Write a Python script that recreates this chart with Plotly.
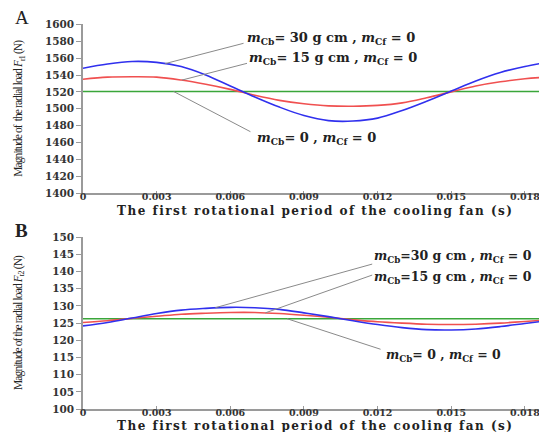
import plotly.graph_objects as go

# ---- data ----
t = [0.0, 0.001, 0.002, 0.003, 0.004, 0.005, 0.006, 0.007, 0.008, 0.009,
     0.010, 0.011, 0.012, 0.013, 0.014, 0.015, 0.016, 0.017, 0.018, 0.0189]

fa_30 = [1548, 1553, 1556, 1555, 1550, 1540, 1527, 1514, 1502, 1492,
         1486, 1485.5, 1489, 1498, 1509, 1521, 1533, 1543, 1550, 1555]
fa_15 = [1535, 1537.5, 1538, 1537.5, 1534, 1529, 1523, 1516, 1510, 1506,
         1503.5, 1503, 1504, 1507, 1513, 1520, 1527, 1532, 1535.5, 1537.5]
fa_0 = [1520.5] * len(t)

fb_30 = [124.2, 125.2, 126.5, 127.8, 128.8, 129.3, 129.6, 129.5, 129.0, 128.0,
         126.9, 125.7, 124.6, 123.7, 123.1, 123.0, 123.3, 124.0, 124.9, 125.7]
fb_15 = [125.2, 125.7, 126.4, 127.0, 127.6, 127.9, 128.1, 128.1, 127.8, 127.3,
         126.7, 126.0, 125.4, 125.0, 124.7, 124.6, 124.7, 125.0, 125.5, 125.9]
fb_0 = [126.3] * len(t)

x_tickvals = [0, 0.003, 0.006, 0.009, 0.012, 0.015, 0.018]
x_ticktext = ["0", "0.003", "0.006", "0.009", "0.012", "0.015", "0.018"]
ya_tickvals = list(range(1400, 1601, 20))
yb_tickvals = list(range(100, 151, 5))

labels_a = ["<i>m</i><sub>Cb</sub>= 30 g cm , <i>m</i><sub>Cf</sub> = 0",
            "<i>m</i><sub>Cb</sub>= 15 g cm , <i>m</i><sub>Cf</sub> = 0",
            "<i>m</i><sub>Cb</sub>= 0 , <i>m</i><sub>Cf</sub> = 0"]
labels_b = ["<i>m</i><sub>Cb</sub>=30 g cm , <i>m</i><sub>Cf</sub> = 0",
            "<i>m</i><sub>Cb</sub>=15 g cm , <i>m</i><sub>Cf</sub> = 0",
            "<i>m</i><sub>Cb</sub>= 0 , <i>m</i><sub>Cf</sub> = 0"]

# leader lines (text end -> curve point), data coordinates
lead_a = [((0.00654, 1577.5), (0.00335, 1553.5)),
          ((0.00668, 1553.8), (0.00403, 1534.0)),
          ((0.00682, 1472.9), (0.00369, 1520.5))]
text_a = [(0.00661, 1583.4), (0.00669, 1559.8), (0.00702, 1465.0)]
lead_b = [((0.01178, 142.2), (0.00539, 129.5)),
          ((0.01178, 139.0), (0.00743, 128.0)),
          ((0.01212, 117.4), (0.00831, 126.3))]
text_b = [(0.01178, 144.35), (0.01178, 138.35), (0.01224, 115.7)]

BLUE = "#3030ee"
RED = "#f05050"
GREEN = "#3aa63a"
AXC = "#9a9a9a"
SERIF = "Liberation Serif"

# page body has an 8px margin; figure fills the rest of the 547x432 window
OFF = 8
W, H = 547 - OFF, 432 - OFF


def px(x):
    return (x - OFF) / W


def py(y):
    return 1 - (y - OFF) / H


fig = go.Figure()
for y, c in [(fa_0, GREEN), (fa_15, RED), (fa_30, BLUE)]:
    fig.add_trace(go.Scatter(x=t, y=y, mode="lines", line=dict(color=c, width=1.6, shape="spline"),
                             xaxis="x", yaxis="y", showlegend=False))
for y, c in [(fb_0, GREEN), (fb_15, RED), (fb_30, BLUE)]:
    fig.add_trace(go.Scatter(x=t, y=y, mode="lines", line=dict(color=c, width=1.6, shape="spline"),
                             xaxis="x2", yaxis="y2", showlegend=False))

xdom = [px(83), 1.0]
tickfont = dict(family="DejaVu Serif", size=10.5, color="#333", weight="bold")
xcommon = dict(domain=xdom, range=[0, 0.0189], tickvals=x_tickvals, ticktext=x_ticktext,
               showline=True, linecolor=AXC, linewidth=1.5, ticks="inside", ticklen=3,
               tickcolor=AXC, showgrid=False, zeroline=False,
               tickfont=dict(tickfont, size=9.5), automargin=False, ticklabelstandoff=-6)
ycommon = dict(showline=True, linecolor=AXC, linewidth=1.5, ticks="outside", ticklen=5,
               tickcolor=AXC, showgrid=False, zeroline=False, tickfont=tickfont,
               automargin=False)

fig.update_layout(
    width=W, height=H, margin=dict(l=0, r=0, t=0, b=0, pad=0, autoexpand=False),
    paper_bgcolor="white", plot_bgcolor="white",
    xaxis=dict(anchor="y", **xcommon),
    yaxis=dict(anchor="x", domain=[py(193.3), py(24.3)], range=[1400, 1600],
               tickvals=ya_tickvals, **ycommon),
    xaxis2=dict(anchor="y2", **xcommon),
    yaxis2=dict(anchor="x2", domain=[py(409), py(237.3)], range=[100, 150],
                tickvals=yb_tickvals, **ycommon),
)

for (p0, p1) in lead_a:
    fig.add_shape(type="line", xref="x", yref="y", x0=p0[0], y0=p0[1], x1=p1[0], y1=p1[1],
                  line=dict(color="#8a8a8a", width=1))
for (p0, p1) in lead_b:
    fig.add_shape(type="line", xref="x2", yref="y2", x0=p0[0], y0=p0[1], x1=p1[0], y1=p1[1],
                  line=dict(color="#8a8a8a", width=1))

lab_font = dict(family="DejaVu Serif", size=13, color="#222", weight="bold")
for (pos, txt) in zip(text_a, labels_a):
    fig.add_annotation(x=pos[0], y=pos[1], xref="x", yref="y", text=txt, showarrow=False,
                       xanchor="left", yanchor="middle", font=lab_font)
for (pos, txt) in zip(text_b, labels_b):
    fig.add_annotation(x=pos[0], y=pos[1], xref="x2", yref="y2", text=txt, showarrow=False,
                       xanchor="left", yanchor="middle", font=dict(lab_font, size=12.5))

xt = '<span style="letter-spacing:1.5px">The first rotational period of the cooling fan (s)</span>'
xt_font = dict(family="DejaVu Serif", size=12, color="#222", weight="bold")
xc = (xdom[0] + xdom[1]) / 2
fig.add_annotation(x=xc, y=py(211), xref="paper", yref="paper", text=xt, showarrow=False,
                   xanchor="center", yanchor="middle", font=xt_font)
fig.add_annotation(x=xc, y=py(425.6), xref="paper", yref="paper", text=xt, showarrow=False,
                   xanchor="center", yanchor="middle", font=xt_font)

yt_font = dict(family=SERIF, size=11.5, color="#222")
fig.add_annotation(x=px(19), y=py(108.8), xref="paper", yref="paper", textangle=-90,
                   text='<span style="letter-spacing:-0.9px">Magnitude of  the radial load <i>F</i><sub>r1</sub> (N)</span>',
                   showarrow=False, xanchor="center", yanchor="middle", font=yt_font)
fig.add_annotation(x=px(19), y=py(323), xref="paper", yref="paper", textangle=-90,
                   text='<span style="letter-spacing:-0.9px">Magnitude of the radial load <i>F</i><sub>r2</sub> (N)</span>',
                   showarrow=False, xanchor="center", yanchor="middle", font=yt_font)

fig.add_annotation(x=px(22), y=py(17), xref="paper", yref="paper", text="A", showarrow=False,
                   xanchor="center", yanchor="middle", font=dict(family=SERIF, size=19, color="#222"))
fig.add_annotation(x=px(21), y=py(230), xref="paper", yref="paper", text="B", showarrow=False,
                   xanchor="center", yanchor="middle", font=dict(family=SERIF, size=19, color="#222", weight="bold"))

fig.write_html("out.html")
